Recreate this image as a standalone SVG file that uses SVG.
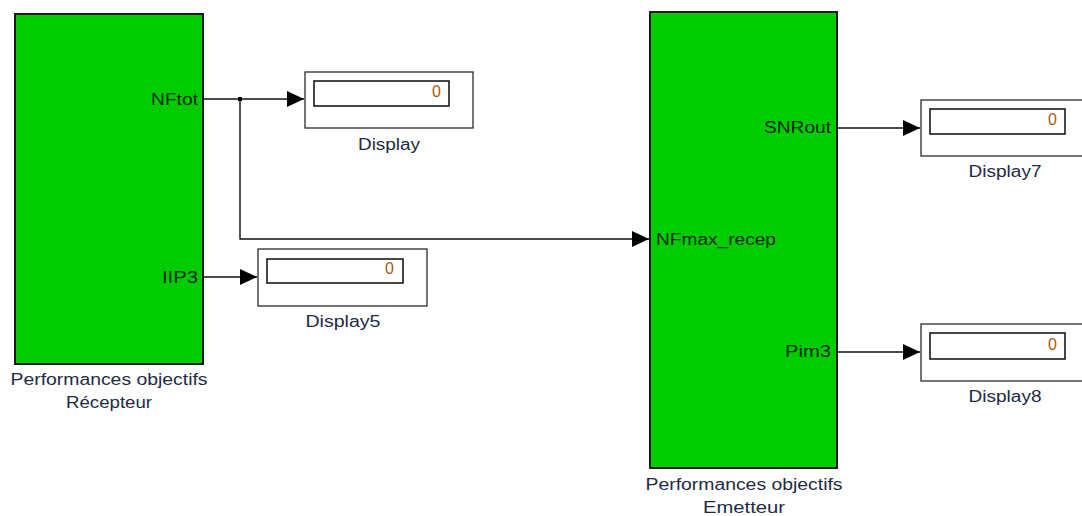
<svg xmlns="http://www.w3.org/2000/svg" width="1082" height="516" viewBox="0 0 1082 516">
<style>
.blk{fill:#00cc00;stroke:#1a1a1a;stroke-width:2}
.disp{fill:#fff;stroke:#1a1a1a;stroke-width:1.2}
.inner{fill:#fff;stroke:#1a1a1a;stroke-width:1.6}
.port{font-family:"Liberation Sans",Arial,sans-serif;font-size:16px;fill:#0a2a0a}
.lbl{font-family:"Liberation Sans",Arial,sans-serif;font-size:16px;fill:#1e2a44;text-anchor:middle}
.val{font-family:"Liberation Sans",Arial,sans-serif;font-size:16px;fill:#a85a10;text-anchor:end}
.wire{fill:none;stroke:#111;stroke-width:1.4}
</style>
<defs>
<marker id="arr" markerUnits="userSpaceOnUse" markerWidth="17" markerHeight="17" refX="17" refY="8" orient="auto">
<path d="M0,0 L17,8 L0,16 Z" fill="#000"/>
</marker>
</defs>
<rect width="1082" height="516" fill="#fff"/>
<g id="recepteur">
<rect class="blk" x="15" y="14" width="188" height="350"/>
<text class="port" x="198" y="105" text-anchor="end" textLength="47" lengthAdjust="spacingAndGlyphs">NFtot</text>
<text class="port" x="198" y="283" text-anchor="end" textLength="36" lengthAdjust="spacingAndGlyphs">IIP3</text>
<text class="lbl" x="109" y="385" textLength="197" lengthAdjust="spacingAndGlyphs">Performances objectifs</text>
<text class="lbl" x="109" y="408" textLength="86" lengthAdjust="spacingAndGlyphs">Récepteur</text>
</g>
<g id="emetteur">
<rect class="blk" x="650" y="12" width="187" height="456"/>
<text class="port" x="656" y="245" textLength="120" lengthAdjust="spacingAndGlyphs">NFmax_recep</text>
<text class="port" x="831" y="133" text-anchor="end" textLength="67" lengthAdjust="spacingAndGlyphs">SNRout</text>
<text class="port" x="831" y="357" text-anchor="end" textLength="46" lengthAdjust="spacingAndGlyphs">Pim3</text>
<text class="lbl" x="744" y="490" textLength="197" lengthAdjust="spacingAndGlyphs">Performances objectifs</text>
<text class="lbl" x="744" y="513" textLength="82" lengthAdjust="spacingAndGlyphs">Emetteur</text>
</g>
<g id="display">
<rect class="disp" x="305" y="72" width="168" height="56"/>
<rect class="inner" x="314" y="81" width="135" height="25"/>
<text class="val" x="441" y="97">0</text>
<text class="lbl" x="389" y="150" textLength="62" lengthAdjust="spacingAndGlyphs">Display</text>
</g>
<g id="display5">
<rect class="disp" x="258" y="249" width="169" height="57"/>
<rect class="inner" x="267" y="259" width="136" height="24"/>
<text class="val" x="394" y="274">0</text>
<text class="lbl" x="343" y="327" textLength="75" lengthAdjust="spacingAndGlyphs">Display5</text>
</g>
<g id="display7">
<rect class="disp" x="921" y="100" width="175" height="56"/>
<rect class="inner" x="930" y="109" width="135" height="25"/>
<text class="val" x="1057" y="125">0</text>
<text class="lbl" x="1005" y="177" textLength="73" lengthAdjust="spacingAndGlyphs">Display7</text>
</g>
<g id="display8">
<rect class="disp" x="921" y="324" width="175" height="57"/>
<rect class="inner" x="930" y="333" width="135" height="26"/>
<text class="val" x="1057" y="350">0</text>
<text class="lbl" x="1005" y="402" textLength="73" lengthAdjust="spacingAndGlyphs">Display8</text>
</g>
<g id="connectors">
<path class="wire" d="M203,99 H304" marker-end="url(#arr)"/>
<path class="wire" d="M240,99 V239 H649" marker-end="url(#arr)"/>
<rect x="238" y="97" width="4" height="4" fill="#000"/>
<path class="wire" d="M203,277 H257" marker-end="url(#arr)"/>
<path class="wire" d="M837,128 H920" marker-end="url(#arr)"/>
<path class="wire" d="M837,352 H920" marker-end="url(#arr)"/>
</g>
</svg>
